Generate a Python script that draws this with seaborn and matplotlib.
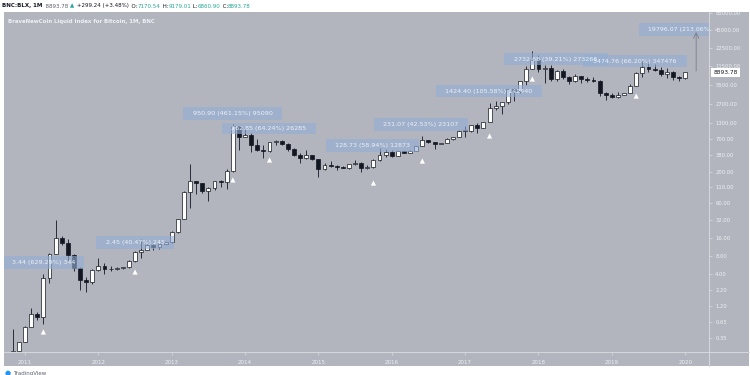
import matplotlib
matplotlib.use('Agg')
import matplotlib.pyplot as plt
import matplotlib.transforms as mtransforms
from matplotlib.patches import Rectangle
from matplotlib.lines import Line2D
from matplotlib.ticker import NullLocator
import numpy as np
import pandas as pd
import seaborn as sns

# --- data (monthly BLX candles) ---
start_month = '2010-10'
opens = [0.062, 0.19, 0.21,
         0.30, 0.53, 0.86, 0.78, 3.50, 8.7, 16.1, 13.4, 8.2, 5.1, 3.25, 3.0,
         4.7, 5.5, 4.9, 4.9, 5.0, 5.2, 6.7, 9.2, 10.2, 12.4, 11.2, 12.6,
         13.5, 20.4, 33.4, 93, 139, 129, 97, 106, 141, 133, 204, 1130,
         752, 800, 565, 458, 447, 627, 640, 585, 480, 385, 340, 375,
         320, 218, 254, 245, 236, 230, 264, 284, 230, 237, 314, 378,
         430, 370, 437, 416, 448, 531, 673, 624, 575, 609, 700, 745,
         963, 966, 1190, 1080, 1350, 2300, 2480, 2870, 4730, 4340, 6450, 9950,
         14000, 10200, 10400, 6900, 9250, 7500, 6400, 7730, 7030, 6630, 6320, 4040,
         3740, 3450, 3820, 4100, 5320, 8570, 10800, 10080, 9590, 8300, 9150, 7550,
         7170.54]
highs = [0.20, 0.50, 0.30,
         0.55, 1.10, 0.95, 4.0, 8.9, 31.9, 17.5, 15.6, 8.5, 5.3, 3.6, 4.8,
         7.4, 6.1, 5.4, 5.3, 5.2, 6.9, 9.6, 15.4, 12.9, 12.9, 12.9, 13.9,
         20.7, 33.4, 95, 266, 140, 131, 111, 141, 145, 220, 1242, 1160,
         1020, 870, 690, 545, 630, 680, 660, 600, 500, 415, 460, 385,
         320, 280, 300, 260, 247, 268, 315, 285, 255, 330, 502, 470,
         462, 440, 440, 465, 540, 780, 680, 630, 610, 720, 760, 975,
         1150, 1200, 1290, 1350, 2760, 3000, 2920, 4780, 4980, 6470, 11400, 19800,
         17200, 11800, 11700, 9800, 9950, 7780, 8500, 7770, 7420, 7500, 6570, 4250,
         4100, 4200, 4100, 5600, 9100, 13900, 13200, 12300, 10950, 10500, 9500, 7750,
         9179.01]
lows = [0.06, 0.19, 0.17,
        0.30, 0.53, 0.70, 0.60, 2.9, 8.7, 12.0, 6.6, 4.5, 2.2, 2.0, 2.7,
        4.6, 4.0, 4.6, 4.7, 4.9, 5.1, 6.4, 7.5, 10.1, 9.9, 10.5, 12.5,
        13.2, 19.1, 33, 50, 85, 88, 65, 101, 111, 105, 197, 455,
        750, 420, 440, 340, 430, 550, 565, 440, 360, 280, 325, 310,
        165, 210, 240, 215, 228, 219, 255, 198, 225, 235, 305, 350,
        350, 365, 405, 415, 440, 525, 600, 470, 570, 600, 680, 740,
        750, 920, 890, 1060, 1350, 2100, 1830, 2700, 2970, 4120, 5500, 10000,
        9000, 6000, 6500, 6500, 7000, 5800, 6100, 5900, 6100, 6200, 3550, 3150,
        3400, 3380, 3700, 4080, 5300, 7450, 9100, 9400, 7750, 7300, 6550, 6450,
        6860.90]
closes = [0.19, 0.21, 0.30,
          0.53, 0.86, 0.78, 3.50, 8.7, 16.1, 13.4, 8.2, 5.1, 3.25, 3.0, 4.7,
          5.5, 4.9, 4.9, 5.0, 5.2, 6.7, 9.2, 10.2, 12.4, 11.2, 12.6, 13.5,
          20.4, 33.4, 93, 139, 129, 97, 106, 141, 133, 204, 1130, 752,
          800, 565, 458, 447, 627, 640, 585, 480, 385, 340, 375, 320,
          218, 254, 245, 236, 230, 264, 284, 230, 237, 314, 378, 430,
          370, 437, 416, 448, 531, 673, 624, 575, 609, 700, 745, 963,
          966, 1190, 1080, 1350, 2300, 2480, 2870, 4730, 4340, 6450, 9950, 14000,
          10200, 10400, 6900, 9250, 7500, 6400, 7730, 7030, 6630, 6320, 4040, 3740,
          3450, 3820, 4100, 5320, 8570, 10800, 10080, 9590, 8300, 9150, 7550, 7170.54,
          8893.78]

# swing-low markers (month, price)
marker_months = ['2011-04', '2012-07', '2013-11', '2014-05', '2015-10',
                 '2016-06', '2017-05', '2017-12', '2019-05']
marker_prices = [0.44, 4.35, 146, 313, 130, 301, 783, 6900, 3600]

# price-range labels: text, month span, price span
range_texts = ['3.44 (629.29%) 344', '2.45 (40.47%) 245', '950.90 (461.15%) 95090',
               '262.85 (64.24%) 26285', '128.73 (58.94%) 12873', '231.07 (42.53%) 23107',
               '1424.40 (105.58%) 142440', '2732.68 (39.21%) 273268',
               '3474.76 (66.20%) 347476', '19796.07 (213.06%)']
range_m0 = [-3.44, 11.6, 25.9, 32.2, 49.3, 57.1, 67.3, 78.4, 91.3, 100.5]
range_m1 = [9.66, 24.4, 42.1, 47.6, 64.5, 72.5, 84.5, 95.3, 108.3, 118.0]
range_lo = [4.87, 10.5, 1440, 846, 425, 949, 3468, 11770, 10890, 35700]
range_hi = [8.0, 17.2, 2370, 1285, 698, 1556, 5495, 18630, 17240, 58600]

year_labels = ['2011', '2012', '2013', '2014', '2015', '2016', '2017', '2018', '2019', '2020']
price_ticks = [0.35, 0.65, 1.2, 2.2, 4, 8, 16, 32, 60, 110, 200, 380, 700, 1300,
               2700, 5500, 11500, 22500, 45000, 85000]
last_price = 8893.78


def month_index(period_str):
    p = pd.Period(period_str, freq='M')
    return (p.year - 2011) * 12 + p.month - 1


df = pd.DataFrame({'open': opens, 'high': highs, 'low': lows, 'close': closes})
df['m'] = month_index(start_month) + np.arange(len(df))
df['up'] = df['close'] >= df['open']

marks = pd.DataFrame({'m': [month_index(s) for s in marker_months], 'price': marker_prices})

sns.set_style('ticks')
plt.rcParams['font.family'] = ['DejaVu Sans']

BG = '#b2b5be'
LINE = '#d3d6dd'
LIGHT = '#eef0f4'
DARK = '#131722'
GREEN = '#26a69a'
W, H = 750, 375

fig = plt.figure(figsize=(7.5, 3.75), dpi=100)
fig.patch.set_facecolor('white')
fig.add_artist(Rectangle((4 / W, 9 / H), 745 / W, 354 / H, transform=fig.transFigure,
                         facecolor=BG, edgecolor='none', zorder=-2))

ax = fig.add_axes([4 / W, (H - 352) / H, 705 / W, 340 / H])
ax.set_facecolor(BG)
for s in ax.spines.values():
    s.set_visible(False)

ax.set_yscale('log')
ax.set_xlim(-3.44, 111.9)
ax.set_ylim(0.205, 89180)

# candles
ax.vlines(df['m'], df['low'], df['high'], color=DARK, lw=0.6, zorder=2)
body_lo = np.minimum(df['open'], df['close'])
body_h = np.maximum(np.abs(df['close'] - df['open']), body_lo * 0.012)
ax.bar(df['m'], body_h, bottom=body_lo, width=0.64,
       color=np.where(df['up'], 'white', DARK), edgecolor=DARK, linewidth=0.5, zorder=3)

# swing markers
sns.scatterplot(data=marks, x='m', y='price', marker='^', s=14, color='white',
                edgecolor='none', ax=ax, zorder=4, legend=False)

# price range boxes
for txt, a, b, lo, hi in zip(range_texts, range_m0, range_m1, range_lo, range_hi):
    ax.add_patch(Rectangle((a, lo), b - a, hi - lo, facecolor='#92aed4', alpha=0.62,
                           edgecolor='none', zorder=5))
    yc = np.sqrt(lo * hi)
    if b > 111.9:
        ax.text(a + 1.5, yc, txt, ha='left', va='center', fontsize=4.5, color=LIGHT,
                zorder=6, clip_on=True)
    else:
        ax.text((a + b) / 2, yc, txt, ha='center', va='center', fontsize=4.6,
                color=LIGHT, zorder=6, clip_on=True)

ax.annotate('', xy=(109.8, 41600), xytext=(109.8, 9370),
            arrowprops=dict(arrowstyle='->', color='#7c7f88', lw=0.6,
                            shrinkA=0, shrinkB=0), zorder=6)

# axes
ax.set_xticks(range(0, 109, 12))
ax.set_xticklabels(year_labels)
ax.tick_params(axis='x', colors=LINE, length=2, width=0.6, pad=4,
               labelsize=4, labelcolor=LIGHT)
ax.yaxis.tick_right()
ax.set_yticks(price_ticks)
ax.set_yticklabels([f'{v:.2f}' for v in price_ticks])
ax.yaxis.set_minor_locator(NullLocator())
ax.tick_params(axis='y', colors=LINE, length=2.5, width=0.6, pad=2,
               labelsize=3.8, labelcolor=LIGHT)
ax.set_xlabel('')
ax.set_ylabel('')
panel = mtransforms.TransformedBbox(mtransforms.Bbox.from_extents(709 / W, 9 / H, 749 / W, (H - 12) / H),
                                    fig.transFigure)
for lab in ax.get_yticklabels():
    lab.set_clip_on(True)
    lab.set_clip_box(panel)

blend = mtransforms.blended_transform_factory(ax.transAxes, ax.transData)
ax.text(1.006, last_price, f'{last_price:.2f}', transform=blend, ha='left', va='center',
        fontsize=4.2, color=DARK, zorder=7, clip_on=False,
        bbox=dict(boxstyle='square,pad=0.35', fc='white', ec='none'))

# separators
fig.add_artist(Line2D([4 / W, 749 / W], [(H - 352) / H] * 2, color=LINE, lw=0.8,
                      transform=fig.transFigure))
fig.add_artist(Line2D([709 / W] * 2, [9 / H, (H - 12) / H], color=LINE, lw=0.8,
                      transform=fig.transFigure))

# header line
parts = [('BNC:BLX, 1M', DARK, 'bold'), ('  8893.78 ', '#5d606b', 'normal'),
         ('\u25b2', GREEN, 'normal'), (' +299.24 (+3.48%)', DARK, 'normal'),
         ('  O:', DARK, 'normal'), ('7170.54', GREEN, 'normal'),
         (' H:', DARK, 'normal'), ('9179.01', GREEN, 'normal'),
         (' L:', DARK, 'normal'), ('6860.90', GREEN, 'normal'),
         (' C:', DARK, 'normal'), ('8893.78', GREEN, 'normal')]
t = fig.text(2 / W, 1 - 6 / H, parts[0][0], color=parts[0][1], fontweight=parts[0][2],
             fontsize=4.0, va='center', ha='left')
for s, c, w in parts[1:]:
    t = ax.annotate(s, xy=(1, 0.5), xycoords=t, va='center', ha='left',
                    color=c, fontweight=w, fontsize=4.0, annotation_clip=False)

fig.text(8 / W, 1 - 21.5 / H, 'BraveNewCoin Liquid Index for Bitcoin, 1M, BNC',
         color=LIGHT, fontsize=3.9, fontweight='bold', va='center', ha='left')

fig.text(5 / W, 1.5 / H, '\u25cf', color='#2196f3', fontsize=5, va='center', ha='left')
fig.text(13 / W, 1.5 / H, 'TradingView', color='#5d606b', fontsize=4, va='center', ha='left')

fig.savefig('out.png', dpi=100, facecolor='white')
